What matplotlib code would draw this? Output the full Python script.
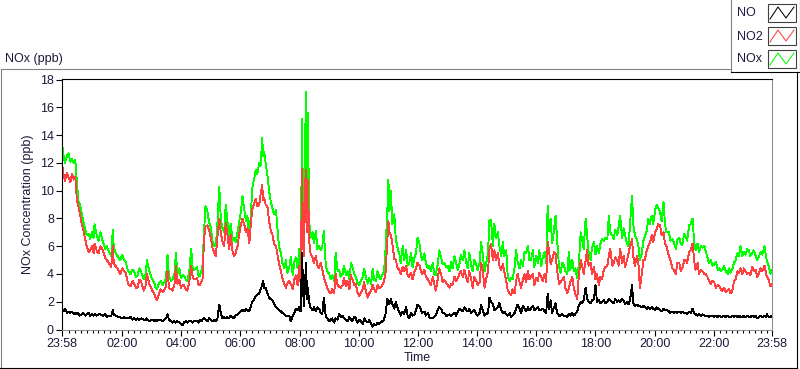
import numpy as np
import matplotlib
matplotlib.use("Agg")
import matplotlib.pyplot as plt
from matplotlib.patches import Rectangle
from matplotlib.lines import Line2D

# minutes after 23:58
minutes = [
    0, 3, 6, 10, 13, 17, 20, 24, 27, 30,
    33, 36, 40, 43, 47, 50, 54, 57, 61, 64,
    66, 71, 74, 78, 83, 88, 91, 95, 100, 103,
    105, 108, 114, 118, 122, 126, 129, 134, 139, 143,
    146, 150, 153, 157, 160, 166, 170, 172, 177, 183,
    187, 190, 193, 195, 200, 204, 207, 211, 214, 217,
    221, 224, 228, 231, 234, 238, 241, 245, 247, 251,
    254, 258, 262, 265, 268, 274, 277, 280, 283, 285,
    288, 291, 295, 298, 302, 305, 309, 312, 315, 319,
    322, 325, 329, 332, 335, 339, 342, 346, 349, 352,
    356, 359, 363, 366, 370, 373, 376, 380, 383, 386,
    390, 393, 396, 400, 403, 406, 408, 410, 413, 417,
    420, 423, 427, 430, 434, 437, 440, 444, 447, 451,
    454, 457, 461, 464, 468, 471, 474, 478, 481, 484,
    487, 489, 491, 493, 495, 497, 499, 501, 504, 508,
    511, 515, 518, 521, 525, 528, 531, 535, 538, 542,
    545, 548, 552, 555, 559, 562, 565, 569, 572, 576,
    579, 583, 586, 589, 593, 596, 599, 603, 606, 610,
    613, 616, 620, 623, 627, 630, 633, 637, 640, 643,
    646, 650, 653, 656, 660, 662, 664, 667, 670, 674,
    677, 681, 684, 687, 691, 694, 698, 701, 704, 708,
    711, 715, 718, 721, 725, 728, 731, 735, 738, 742,
    745, 748, 752, 755, 758, 762, 765, 769, 772, 775,
    779, 782, 786, 789, 792, 796, 799, 803, 806, 809,
    813, 816, 820, 823, 826, 830, 833, 836, 840, 843,
    847, 850, 853, 857, 860, 864, 867, 870, 874, 877,
    880, 884, 887, 891, 894, 897, 901, 904, 908, 911,
    914, 918, 921, 924, 928, 931, 935, 938, 941, 945,
    948, 951, 955, 958, 962, 965, 968, 972, 975, 979,
    982, 985, 988, 991, 994, 998, 1001, 1004, 1008, 1011,
    1015, 1018, 1021, 1025, 1028, 1031, 1035, 1038, 1041, 1045,
    1048, 1052, 1055, 1058, 1062, 1065, 1068, 1072, 1075, 1079,
    1082, 1085, 1089, 1092, 1095, 1099, 1102, 1106, 1109, 1112,
    1116, 1119, 1122, 1126, 1129, 1132, 1136, 1139, 1142, 1146,
    1149, 1152, 1156, 1159, 1162, 1166, 1169, 1172, 1176, 1179,
    1182, 1186, 1189, 1192, 1196, 1199, 1203, 1206, 1209, 1213,
    1216, 1220, 1223, 1226, 1231, 1234, 1238, 1241, 1245, 1248,
    1252, 1255, 1258, 1262, 1265, 1268, 1272, 1275, 1279, 1282,
    1285, 1289, 1292, 1296, 1299, 1303, 1306, 1309, 1312, 1316,
    1319, 1323, 1326, 1330, 1333, 1336, 1339, 1343, 1346, 1350,
    1353, 1356, 1359, 1363, 1366, 1370, 1373, 1376, 1380, 1383,
    1386, 1390, 1393, 1396, 1400, 1403, 1407, 1410, 1413, 1417,
    1420, 1425, 1428, 1430, 1433, 1437, 1440,
]

nox = [
    13.4, 12.6, 12.0, 12.5, 12.7, 12.1, 12.3, 12.0, 12.2, 10.7,
    9.3, 9.0, 8.4, 7.8, 7.2, 6.8, 6.9, 6.5, 7.0, 6.6,
    7.6, 6.7, 6.4, 7.0, 6.3, 5.8, 6.0, 5.6, 5.3, 7.2,
    5.9, 5.6, 5.2, 5.0, 5.4, 5.0, 4.9, 4.2, 4.0, 4.3,
    4.2, 3.8, 3.9, 4.4, 4.2, 3.6, 4.0, 5.0, 4.2, 3.6,
    3.4, 3.0, 2.9, 3.2, 3.5, 3.2, 3.4, 3.7, 5.4, 3.8,
    3.5, 3.6, 4.0, 5.5, 4.0, 4.4, 3.7, 3.9, 3.9, 3.6,
    3.5, 4.1, 5.8, 4.4, 4.3, 4.5, 3.8, 3.9, 4.3, 4.6,
    7.0, 8.9, 8.5, 7.8, 7.3, 6.4, 6.0, 6.0, 7.5, 10.3,
    8.0, 7.3, 7.0, 9.0, 8.0, 6.5, 7.6, 6.4, 6.6, 6.3,
    7.0, 7.7, 8.5, 9.6, 8.6, 7.8, 8.2, 6.7, 8.3, 10.2,
    10.9, 11.5, 11.2, 12.0, 11.8, 13.8, 12.5, 12.8, 12.0, 11.0,
    10.0, 9.3, 8.7, 8.3, 8.6, 7.3, 6.0, 5.5, 4.8, 4.4,
    5.0, 4.1, 4.5, 5.2, 3.9, 4.8, 5.2, 4.4, 5.8, 4.3,
    15.2, 7.0, 6.5, 13.5, 17.1, 9.0, 15.6, 8.0, 6.6, 7.0,
    6.2, 7.1, 5.8, 6.0, 5.7, 6.0, 7.1, 4.6, 4.2, 4.0,
    3.6, 3.9, 3.5, 5.5, 4.2, 4.3, 3.8, 4.0, 4.6, 3.9,
    4.2, 3.6, 4.8, 4.5, 4.0, 3.8, 3.4, 3.2, 3.5, 3.8,
    4.4, 3.8, 3.3, 3.7, 3.3, 4.4, 3.6, 3.5, 4.2, 3.8,
    3.6, 4.0, 4.1, 5.7, 8.7, 10.8, 8.5, 10.0, 7.6, 8.3,
    6.5, 5.8, 5.5, 4.8, 6.0, 5.0, 5.7, 4.6, 4.7, 5.5,
    4.5, 5.2, 5.5, 6.6, 6.2, 5.3, 5.0, 5.5, 4.8, 4.4,
    4.6, 4.2, 4.8, 4.0, 3.9, 4.7, 5.7, 5.2, 4.7, 4.8,
    4.5, 4.6, 4.2, 4.9, 4.4, 5.3, 4.8, 4.3, 4.7, 5.4,
    5.0, 5.7, 4.8, 4.4, 5.5, 4.6, 4.2, 5.0, 4.7, 4.3,
    4.8, 6.3, 5.5, 4.2, 4.7, 5.5, 7.9, 7.9, 6.0, 7.6,
    6.6, 7.0, 6.0, 5.3, 6.3, 5.3, 5.7, 3.8, 3.5, 3.7,
    3.6, 4.5, 5.7, 4.9, 4.4, 5.0, 4.6, 5.6, 5.5, 6.0,
    5.0, 5.0, 5.7, 4.5, 5.3, 4.8, 5.7, 4.6, 5.2, 5.6,
    4.8, 8.9, 7.1, 8.0, 6.2, 7.2, 8.2, 6.6, 4.5, 4.1,
    4.8, 4.6, 4.2, 4.0, 5.6, 4.3, 5.0, 4.2, 4.4, 3.7,
    4.6, 7.0, 6.5, 5.8, 8.0, 6.8, 5.6, 5.0, 5.9, 6.3,
    5.4, 6.0, 5.5, 6.2, 6.5, 6.4, 6.6, 6.5, 8.2, 7.0,
    6.8, 6.5, 7.2, 6.8, 7.4, 8.2, 6.6, 7.3, 6.8, 6.2,
    6.0, 7.5, 9.6, 7.5, 6.8, 6.5, 6.0, 5.0, 5.5, 6.4,
    6.7, 7.1, 8.0, 7.6, 8.2, 7.6, 8.6, 9.0, 8.8, 8.5,
    7.8, 9.2, 7.6, 7.0, 7.0, 6.4, 6.5, 6.3, 5.8, 6.5,
    6.6, 6.2, 6.1, 6.9, 6.7, 6.4, 7.5, 7.6, 8.0, 6.3,
    5.7, 6.2, 5.6, 6.0, 5.9, 6.0, 5.6, 5.2, 4.8, 5.0,
    4.6, 4.7, 4.9, 4.3, 4.4, 4.2, 4.3, 4.6, 4.2, 4.0,
    4.4, 4.1, 4.3, 4.8, 5.0, 5.5, 5.3, 6.0, 5.3, 5.6,
    5.4, 5.8, 5.7, 5.3, 5.5, 5.7, 5.3, 5.0, 5.2, 5.6,
    5.4, 6.0, 5.2, 4.9, 4.6, 4.0, 4.3,
]

no2 = [
    12.0, 11.2, 10.7, 11.3, 11.0, 10.6, 11.2, 10.8, 11.0, 9.4,
    8.9, 8.4, 7.6, 7.2, 6.5, 6.0, 5.6, 5.7, 6.0, 5.5,
    6.2, 5.6, 5.5, 6.0, 5.7, 5.1, 5.0, 4.8, 4.5, 6.0,
    4.8, 4.6, 4.3, 4.0, 4.4, 4.2, 4.1, 3.3, 3.1, 3.5,
    3.3, 3.0, 3.0, 3.6, 3.5, 2.8, 3.2, 4.0, 3.3, 2.8,
    2.6, 2.3, 2.1, 2.4, 2.9, 2.7, 2.8, 3.1, 4.2, 3.0,
    2.9, 2.8, 3.2, 4.6, 3.3, 3.6, 3.0, 3.2, 3.2, 2.9,
    2.8, 3.4, 4.6, 3.8, 3.6, 3.7, 3.2, 3.2, 3.5, 3.6,
    6.5, 7.4, 7.5, 7.2, 6.6, 5.9, 5.5, 5.3, 6.6, 8.0,
    7.0, 6.4, 6.0, 7.7, 7.0, 5.8, 6.8, 5.6, 5.3, 5.5,
    6.0, 6.8, 7.6, 8.0, 7.5, 7.0, 7.3, 6.2, 7.6, 8.7,
    9.1, 9.4, 8.9, 9.0, 9.8, 10.4, 9.3, 9.5, 9.0, 8.8,
    7.8, 7.2, 6.8, 6.2, 6.0, 5.4, 4.8, 4.2, 3.7, 3.3,
    3.0, 3.3, 3.5, 3.3, 2.9, 3.6, 3.9, 3.2, 4.6, 3.3,
    11.6, 6.0, 5.3, 10.5, 11.5, 7.0, 10.8, 6.5, 5.5, 5.2,
    4.8, 5.3, 4.6, 4.4, 4.8, 4.3, 3.8, 3.3, 3.0, 2.7,
    2.6, 2.9, 2.6, 4.0, 3.2, 3.1, 3.0, 3.2, 3.7, 3.1,
    3.5, 2.9, 3.9, 3.6, 3.2, 3.3, 2.7, 2.4, 2.6, 2.9,
    3.4, 2.8, 2.3, 2.6, 2.8, 3.2, 2.9, 2.7, 3.2, 3.0,
    3.0, 3.2, 3.5, 4.0, 6.5, 7.8, 7.0, 6.8, 6.2, 5.1,
    5.0, 4.4, 4.3, 4.0, 4.5, 4.2, 4.6, 3.9, 3.8, 4.1,
    3.6, 4.2, 4.4, 4.8, 4.6, 4.2, 4.0, 4.3, 3.8, 3.6,
    3.4, 3.2, 3.8, 3.3, 2.8, 3.6, 4.4, 4.0, 3.4, 3.6,
    3.4, 3.2, 3.0, 3.3, 3.2, 3.8, 3.5, 3.7, 4.0, 4.2,
    3.8, 4.3, 3.7, 3.4, 4.2, 3.6, 3.0, 3.8, 3.5, 3.2,
    3.4, 4.8, 4.3, 3.0, 3.6, 4.2, 5.8, 6.2, 5.0, 5.7,
    5.0, 5.5, 4.6, 4.3, 4.7, 4.2, 3.5, 2.8, 2.6, 2.5,
    2.9, 2.6, 3.5, 4.0, 3.4, 3.0, 3.6, 4.0, 3.4, 4.2,
    3.6, 3.8, 4.0, 3.2, 3.7, 3.5, 4.1, 3.8, 3.5, 4.0,
    3.4, 6.3, 5.6, 4.7, 5.0, 5.6, 5.5, 4.3, 3.3, 3.4,
    3.6, 3.8, 3.0, 2.6, 3.0, 3.4, 3.8, 3.0, 2.6, 2.2,
    3.8, 5.0, 4.6, 4.0, 5.0, 5.7, 4.6, 4.8, 4.0, 4.5,
    3.6, 4.0, 3.2, 3.8, 3.6, 4.3, 4.5, 4.6, 5.3, 5.8,
    4.6, 4.8, 5.2, 5.0, 4.6, 5.8, 4.8, 5.3, 4.5, 5.0,
    5.5, 6.0, 6.5, 5.2, 4.6, 5.3, 4.8, 3.0, 4.0, 5.0,
    5.0, 5.7, 6.0, 6.2, 6.8, 6.3, 7.0, 7.2, 7.6, 7.5,
    6.8, 7.0, 6.2, 6.0, 5.3, 5.0, 4.4, 4.3, 4.0, 4.8,
    4.8, 4.2, 4.4, 5.0, 5.0, 4.8, 5.6, 5.7, 6.2, 5.0,
    4.3, 4.8, 4.0, 4.3, 4.2, 4.0, 4.0, 3.8, 3.5, 3.3,
    3.5, 3.4, 3.0, 3.2, 3.1, 2.9, 2.8, 3.0, 2.7, 2.8,
    2.9, 2.6, 2.7, 3.5, 3.6, 4.2, 4.1, 4.4, 4.0, 4.4,
    4.2, 4.0, 4.1, 3.9, 4.5, 4.2, 4.3, 3.8, 4.0, 4.4,
    4.2, 4.6, 4.0, 3.8, 3.6, 3.1, 3.3,
]

no = [
    1.4, 1.3, 1.5, 1.2, 1.3, 1.2, 1.3, 1.1, 1.2, 1.1,
    1.2, 1.0, 1.1, 1.2, 1.0, 1.1, 1.2, 1.0, 1.1, 1.0,
    1.1, 1.0, 1.1, 1.1, 1.0, 1.1, 0.9, 1.0, 1.0, 1.4,
    1.1, 1.0, 0.9, 0.9, 0.8, 0.9, 0.8, 0.8, 0.9, 0.7,
    0.8, 0.7, 0.8, 0.7, 0.8, 0.7, 0.7, 0.8, 0.6, 0.7,
    0.6, 0.7, 0.6, 0.7, 0.7, 0.6, 0.7, 0.8, 1.1, 0.7,
    0.6, 0.5, 0.6, 0.5, 0.6, 0.5, 0.4, 0.3, 0.5, 0.6,
    0.5, 0.6, 0.6, 0.5, 0.6, 0.6, 0.5, 0.7, 0.6, 0.7,
    0.8, 0.7, 0.6, 0.8, 0.7, 0.6, 0.7, 0.6, 0.7, 1.8,
    1.2, 0.8, 0.9, 0.8, 0.9, 0.8, 1.0, 0.9, 0.8, 1.0,
    1.1, 1.2, 1.3, 1.4, 1.3, 1.5, 1.4, 1.3, 1.7, 2.0,
    2.2, 2.4, 2.5, 2.6, 2.9, 3.2, 3.5, 3.0, 3.0, 2.6,
    2.3, 2.2, 2.1, 1.9, 1.6, 1.5, 1.4, 1.3, 1.2, 1.1,
    1.0, 1.0, 1.0, 0.6, 1.0, 1.2, 1.5, 1.4, 1.6, 1.3,
    5.5, 2.8, 1.7, 3.5, 4.8, 2.2, 3.0, 2.0, 1.6, 1.4,
    1.6, 1.3, 1.6, 1.5, 1.2, 1.1, 2.3, 0.9, 0.8, 0.6,
    0.7, 0.8, 0.5, 0.8, 0.7, 1.1, 0.9, 1.0, 0.8, 0.7,
    0.6, 0.9, 0.7, 0.6, 0.9, 0.8, 0.5, 0.7, 0.6, 0.4,
    0.8, 0.6, 0.5, 0.7, 0.4, 0.2, 0.4, 0.3, 0.5, 0.4,
    0.5, 0.6, 0.7, 1.1, 2.2, 2.0, 1.8, 2.2, 1.8, 1.5,
    2.0, 1.5, 1.3, 1.0, 1.3, 1.1, 1.6, 1.0, 0.8, 1.2,
    1.0, 1.1, 1.4, 1.8, 1.7, 1.4, 1.2, 1.3, 1.0, 1.2,
    0.9, 0.8, 0.8, 0.9, 1.0, 1.4, 1.6, 1.5, 1.2, 1.2,
    1.0, 1.0, 1.1, 1.0, 1.1, 1.2, 1.0, 1.3, 1.5, 1.4,
    1.3, 1.6, 1.4, 1.3, 1.5, 1.2, 1.3, 1.4, 1.1, 1.0,
    1.2, 1.8, 1.4, 1.0, 1.1, 1.2, 2.3, 2.0, 1.8, 1.4,
    1.5, 1.6, 1.9, 1.4, 1.2, 1.3, 1.1, 1.0, 1.2, 0.9,
    1.0, 1.2, 1.5, 1.8, 1.5, 1.2, 1.7, 1.5, 1.3, 1.6,
    1.4, 1.5, 1.7, 1.4, 1.5, 1.6, 1.4, 1.4, 1.5, 1.3,
    1.2, 2.6, 1.5, 2.1, 1.2, 1.6, 1.9, 1.2, 1.0, 1.0,
    1.1, 1.0, 1.0, 0.9, 1.1, 1.0, 1.2, 1.0, 1.1, 1.3,
    1.7, 2.0, 1.9, 2.1, 3.0, 2.2, 2.0, 1.9, 2.1, 2.2,
    3.2, 2.0, 2.1, 1.9, 2.0, 2.1, 1.9, 2.0, 2.2, 2.1,
    2.0, 1.9, 2.2, 2.0, 2.1, 2.0, 2.2, 2.1, 1.8, 2.0,
    1.8, 2.1, 3.2, 1.9, 1.7, 1.8, 1.7, 1.7, 1.6, 1.7,
    1.6, 1.5, 1.6, 1.5, 1.6, 1.5, 1.4, 1.6, 1.5, 1.4,
    1.3, 1.5, 1.4, 1.4, 1.3, 1.2, 1.3, 1.2, 1.3, 1.2,
    1.3, 1.2, 1.3, 1.2, 1.2, 1.1, 1.3, 1.2, 1.5, 1.2,
    1.1, 1.0, 1.1, 1.0, 1.1, 1.0, 1.0, 1.0, 0.9, 1.0,
    1.0, 0.9, 1.0, 0.9, 1.0, 0.9, 0.9, 1.0, 0.9, 1.0,
    0.9, 0.9, 1.0, 0.9, 1.0, 0.9, 1.0, 0.9, 0.9, 1.0,
    0.9, 1.0, 0.9, 0.9, 1.0, 0.9, 1.0, 0.8, 0.9, 1.0,
    0.9, 1.0, 0.9, 1.1, 0.9, 0.9, 1.0,
]

tick_labels = ["23:58", "02:00", "04:00", "06:00", "08:00", "10:00", "12:00",
               "14:00", "16:00", "18:00", "20:00", "22:00", "23:58"]
y_ticks = [0, 2, 4, 6, 8, 10, 12, 14, 16, 18]
series_names = ["NO", "NO2", "NOx"]
series_colors = ["#000000", "#ff4040", "#00ff00"]

W, H = 800, 369
plt.rcParams["font.family"] = "Liberation Sans"
plt.rcParams["font.size"] = 9
text_col = "#1a1a3a"


def fx(x):
    return x / W


def fy(y):
    return 1 - y / H


fig = plt.figure(figsize=(W / 100, H / 100), dpi=100)

# outer panel frame (grey top/left, black bottom/right)
fig.add_artist(Line2D([fx(0.5), fx(0.5)], [fy(368), fy(69)], color="#808080", lw=0.8))
fig.add_artist(Line2D([fx(0.5), fx(731)], [fy(69), fy(69)], color="#808080", lw=0.8))
fig.add_artist(Line2D([fx(797), fx(797)], [fy(72), fy(368)], color="#000000", lw=0.8))
fig.add_artist(Line2D([fx(0), fx(797)], [fy(368), fy(368)], color="#000000", lw=0.8))

fig.text(fx(5), fy(59), "NOx (ppb)", ha="left", va="center", color=text_col, fontsize=9)

ax = fig.add_axes([fx(62), fy(329.5), fx(772) - fx(62), fy(79) - fy(329.5)])
ax.plot(minutes, nox, color=series_colors[2], lw=0.65, antialiased=False)
ax.plot(minutes, no2, color=series_colors[1], lw=0.65, antialiased=False)
ax.plot(minutes, no, color=series_colors[0], lw=0.65, antialiased=False)

ax.set_xlim(0, 1440)
ax.set_ylim(0, 18.05)

start = 23 * 60 + 58
tick_pos = []
for i, lab in enumerate(tick_labels):
    h, m = lab.split(":")
    t = (int(h) * 60 + int(m) - start) % 1440
    if i == len(tick_labels) - 1:
        t = 1440
    tick_pos.append(t)
ax.set_xticks(tick_pos)
ax.set_xticklabels(tick_labels)
ax.set_xticks(np.arange(14, 1440, 12), minor=True)
ax.set_yticks(y_ticks)

ax.tick_params(axis="both", which="major", direction="out", length=4.3, width=0.8,
               color="black", labelcolor=text_col, labelsize=9)
ax.tick_params(axis="x", which="minor", direction="out", length=2.2, width=0.8, color="black")
ax.tick_params(axis="y", pad=1.5)
ax.tick_params(axis="x", pad=2)

for s in ["left", "top"]:
    ax.spines[s].set_color("black")
    ax.spines[s].set_linewidth(0.8)
for s in ["right", "bottom"]:
    ax.spines[s].set_color("#909090")
    ax.spines[s].set_linewidth(0.8)

ax.set_xlabel("Time", color=text_col, fontsize=9, labelpad=1)
ax.set_ylabel("NOx Concentration (ppb)", color=text_col, fontsize=9, labelpad=4)

# legend panel in the top right corner
fig.add_artist(Line2D([fx(731), fx(731)], [fy(0), fy(72)], color="#808080", lw=0.8))
fig.add_artist(Line2D([fx(731), fx(799.5)], [fy(72), fy(72)], color="#000000", lw=0.8))
fig.add_artist(Line2D([fx(799.5), fx(799.5)], [fy(0), fy(72)], color="#000000", lw=0.8))
for i, (name, col) in enumerate(zip(series_names, series_colors)):
    top = 4 + i * 23
    fig.text(fx(737), fy(top + 9.5), name, ha="left", va="center", color=text_col, fontsize=9)
    fig.add_artist(Rectangle((fx(768), fy(top + 18)), fx(28), fy(0) - fy(18),
                             facecolor="white", edgecolor="#404040", lw=0.8))
    zx = [770, 778, 786, 794]
    zy = [top + 15, top + 3, top + 14, top + 3]
    fig.add_artist(Line2D([fx(v) for v in zx], [fy(v) for v in zy], color=col, lw=0.75))

fig.savefig("out.png", dpi=100)
